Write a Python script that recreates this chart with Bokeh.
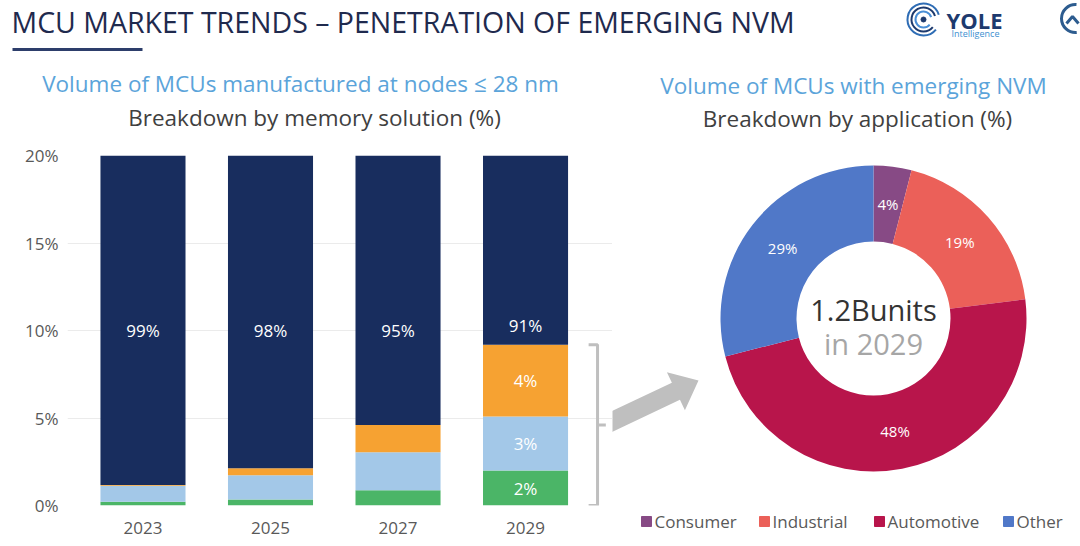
import numpy as np
from bokeh.plotting import figure
from bokeh.models import Range1d, FixedTicker, PrintfTickFormatter, ColumnDataSource
from bokeh.layouts import column, row
from bokeh.embed import file_html
from bokeh.resources import INLINE
from bokeh.core.properties import value

FONT = "Open Sans"

# ---------------- data ----------------
years = ["2023", "2025", "2027", "2029"]
# share of MCU volume at <=28 nm (%), stacked bottom -> top
series_green = [0.21, 0.35, 0.87, 2.00]
series_lightblue = [0.92, 1.38, 2.17, 3.08]
series_orange = [0.04, 0.40, 1.56, 4.11]
series_navy = [98.83, 97.87, 95.40, 90.81]
labels_green = ["", "", "", "2%"]
labels_lightblue = ["", "", "", "3%"]
labels_orange = ["", "", "", "4%"]
labels_navy = ["99%", "98%", "95%", "91%"]
y_ticks = [0, 5, 10, 15, 20]

apps = ["Consumer", "Industrial", "Automotive", "Other"]
app_share = [4, 19, 48, 29]
app_labels = ["4%", "19%", "48%", "29%"]

# ---------------- styles ----------------
C_GREEN = "#4BB567"
C_LBLUE = "#A3C8E8"
C_ORANGE = "#F6A232"
C_NAVY = "#182D5E"
APP_COLORS = ["#874A85", "#EB6059", "#B8154B", "#5078C8"]
TITLE_COL = "#1F2A4E"
SUB_BLUE = "#5BA4DA"
SUB_GRAY = "#404040"
AXIS_GRAY = "#595959"

# ---------------- header ----------------
hdr = figure(width=1080, height=135, x_range=Range1d(0, 1080), y_range=Range1d(135, 0),
             x_axis_type=None, y_axis_type=None, output_backend="svg",
             toolbar_location=None, min_border=0, outline_line_color=None)
hdr.frame_align = False
hdr.grid.visible = False
hdr.text(x=[11], y=[21], text=["MCU MARKET TRENDS – PENETRATION OF EMERGING NVM"],
         text_font=value(FONT), text_font_size="28.5px", text_color=TITLE_COL,
         text_baseline="middle", text_align="left")
hdr.segment(x0=[12], y0=[49], x1=[142], y1=[49], line_color="#2D3E6B", line_width=3)
# logo
for r, c in [(16, "#2F6DB5"), (12, "#1D3A6E"), (8, "#4A8FD6")]:
    hdr.arc(x=[923], y=[19], radius=[r], start_angle=[0.3], end_angle=[5.6],
            line_color=c, line_width=2)
hdr.scatter(x=[923], y=[19], size=5, color="#1D3A6E")
hdr.text(x=[946], y=[19], text=["YOLE"], text_font=value(FONT), text_font_size="22px",
         text_font_style="bold", text_color="#1D3A6E", text_baseline="middle")
hdr.text(x=[951], y=[33], text=["Intelligence"], text_font=value(FONT), text_font_size="9px",
         text_color="#3D8FD0", text_baseline="middle")
hdr.arc(x=[1075], y=[18], radius=[14], start_angle=[1.5], end_angle=[4.8],
        line_color="#2D5C8F", line_width=3)
hdr.line(x=[1066, 1072, 1078], y=[23, 16, 23], line_color="#2D5C8F", line_width=3)
# sub titles
hdr.text(x=[300, 853], y=[83, 85],
         text=["Volume of MCUs manufactured at nodes ≤ 28 nm", "Volume of MCUs with emerging NVM"],
         text_font=value(FONT), text_font_size="22.5px", text_color=SUB_BLUE,
         text_align="center", text_baseline="middle")
hdr.text(x=[314, 857], y=[117, 118],
         text=["Breakdown by memory solution (%)", "Breakdown by application (%)"],
         text_font=value(FONT), text_font_size="22.5px", text_color=SUB_GRAY,
         text_align="center", text_baseline="middle")

# ---------------- left: stacked bars ----------------
xs = list(range(len(years)))
left = figure(width=612, height=411, x_range=Range1d(-0.592, 3.682), y_range=Range1d(0, 20),
              output_backend="svg", toolbar_location=None, min_border_left=67,
              min_border_right=0, min_border_top=20, min_border_bottom=41,
              outline_line_color=None)
left.frame_align = False
left.xgrid.visible = False
left.ygrid.grid_line_color = "#EBEBEB"
left.ygrid.ticker = FixedTicker(ticks=y_ticks)
left.yaxis.ticker = FixedTicker(ticks=y_ticks)
left.yaxis.formatter = PrintfTickFormatter(format="%d%%")
left.xaxis.ticker = FixedTicker(ticks=xs)
left.xaxis.major_label_overrides = {i: y for i, y in enumerate(years)}
for ax in (left.xaxis, left.yaxis):
    ax.axis_line_color = None
    ax.major_tick_line_color = None
    ax.minor_tick_line_color = None
    ax.major_label_text_font = FONT
    ax.major_label_text_font_size = "17px"
    ax.major_label_text_color = AXIS_GRAY
left.yaxis.major_label_standoff = 3
left.xaxis.major_label_standoff = 10

stack = [(series_green, C_GREEN, labels_green),
         (series_lightblue, C_LBLUE, labels_lightblue),
         (series_orange, C_ORANGE, labels_orange),
         (series_navy, C_NAVY, labels_navy)]
bottom = np.zeros(len(years))
label_x, label_y, label_t = [], [], []
for vals, col, labs in stack:
    top = bottom + np.array(vals)
    left.vbar(x=xs, bottom=bottom, top=top, width=0.667, fill_color=col, line_color=None)
    for i, t in enumerate(labs):
        if t:
            if col == C_NAVY:
                yy = max(10.0, bottom[i] + 1.1)
            else:
                yy = (bottom[i] + top[i]) / 2
            label_x.append(xs[i]); label_y.append(yy); label_t.append(t)
    bottom = top
left.text(x=label_x, y=label_y, text=label_t, text_font=value(FONT), text_font_size="17px",
          text_color="white", text_align="center", text_baseline="middle")

# bracket around the emerging NVM part of 2029
b_top = series_green[3] + series_lightblue[3] + series_orange[3]
bx = 3 + (597 - 525) / 127.5
left.line(x=[bx - 0.07, bx, bx, bx - 0.07], y=[b_top, b_top, 0, 0],
          line_color="#BFBFBF", line_width=3)
left.segment(x0=[bx], y0=[b_top / 2], x1=[bx + 0.065], y1=[b_top / 2],
             line_color="#BFBFBF", line_width=3)

# ---------------- right: donut ----------------
right = figure(width=468, height=411, x_range=Range1d(-261, 207), y_range=Range1d(-228, 183),
               x_axis_type=None, y_axis_type=None, output_backend="svg",
               toolbar_location=None, min_border=0, outline_line_color=None)
right.frame_align = False
right.grid.visible = False

# arrow
tail = np.array([-272.0, -108.0])
tip = np.array([-175.0, -62.0])
d = (tip - tail) / np.linalg.norm(tip - tail)
n = np.array([-d[1], d[0]])
base = tip - d * 25
pts = [tail + n * 9.4, base + n * 9.4, base + n * 21, tip, base - n * 21, base - n * 9.4, tail - n * 9.4]
right.patch(x=[p[0] for p in pts], y=[p[1] for p in pts], fill_color="#BFBFBF", line_color=None)

shares = np.array(app_share, dtype=float) / sum(app_share)
cum = np.concatenate([[0], np.cumsum(shares)])
starts = np.pi / 2 - 2 * np.pi * cum[:-1]
ends = np.pi / 2 - 2 * np.pi * cum[1:]
mids = (starts + ends) / 2
src = ColumnDataSource(dict(app=apps, start=starts, end=ends, color=APP_COLORS))
wedges = right.annular_wedge(x=0, y=0, inner_radius=77, outer_radius=153,
                             start_angle="start", end_angle="end", direction="clock",
                             fill_color="color", line_color=None, source=src)
right.text(x=list(115 * np.cos(mids)), y=list(115 * np.sin(mids)), text=app_labels,
           text_font=value(FONT), text_font_size="15px", text_color="white",
           text_align="center", text_baseline="middle")
right.text(x=[0], y=[9], text=["1.2Bunits"], text_font=value(FONT), text_font_size="29px",
           text_color="#333333", text_align="center", text_baseline="middle")
right.text(x=[0], y=[-25], text=["in 2029"], text_font=value(FONT), text_font_size="29px",
           text_color="#A6A6A6", text_align="center", text_baseline="middle")

# legend (square swatch + label per application)
leg_sq_x = [-227, -109, 6, 135]
leg_y = -203
right.scatter(x=leg_sq_x, y=[leg_y] * 4, marker="square", size=10, color=APP_COLORS)
right.text(x=[v + 8 for v in leg_sq_x], y=[leg_y] * 4, text=apps, text_font=value(FONT),
           text_font_size="17px", text_color=AXIS_GRAY, text_align="left",
           text_baseline="middle")

layout = column(hdr, row(left, right))
open("out.html", "w").write(file_html(layout, INLINE))
